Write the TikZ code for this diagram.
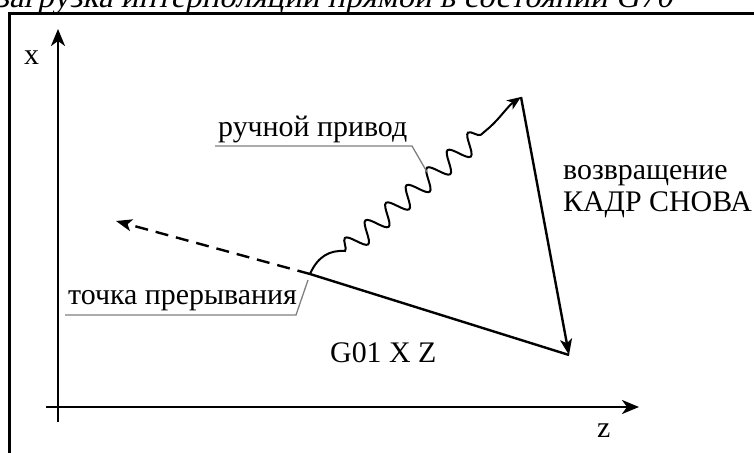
\documentclass[tikz,border=0pt]{standalone}
\usepackage{fontspec}
\setmainfont{Liberation Serif}
\newfontfamily\titlefont{Liberation Serif}[FakeSlant=0.21]
\usetikzlibrary{arrows.meta}
\usetikzlibrary{positioning}
\usetikzlibrary{decorations.pathmorphing}

\begin{document}
\begin{tikzpicture}[
        x=1bp, y=-1bp,
        axis/.style={line width=2.6bp, -{Stealth[length=17bp, width=14bp, inset=5bp]}},
        move/.style={line width=2.4bp, -{Stealth[length=16bp, width=12bp, inset=4bp]}},
        wave/.style={line width=2bp, -{Stealth[length=14bp, width=11bp, inset=4bp]}},
        leader/.style={draw=gray, line width=1.3bp},
        txt/.style={anchor=base west, inner sep=0pt, font=\fontsize{30}{34}\selectfont}
    ]

    \clip (0,0) rectangle (754,453);
    \useasboundingbox (0,0) rectangle (754,453);

    % title, cut by the page edge
    \node[txt, font=\fontsize{33}{36}\titlefont] (title) at (-4,8) {загрузка интерполяции прямой в состоянии G70};

    % frame
    \draw[line width=3bp, line join=miter] (9,470) -- (9,13.5) -- (770,13.5);

    % axes
    \coordinate (xbot) at (58,422);
    \coordinate (xtop) at (58,29);
    \coordinate (zleft) at (46,407);
    \coordinate (zright) at (639,407);
    \draw[axis] (xbot) -- (xtop);
    \draw[axis] (zleft) -- (zright);
    \node[txt] (xlbl) at (24,65) {x};
    \node[txt] (zlbl) at (597,437) {z};

    % points
    \coordinate (P) at (310,274);
    \coordinate (T) at (521,97);
    \coordinate (B) at (569,355);
    \coordinate (D) at (116,221);

    \draw[line width=2.4bp] (P) -- (B);
    \draw[move, dash pattern=on 13bp off 8bp] (P) -- (D);
    \draw[move] (T) -- (B);
    \draw[wave] (P) .. controls (318,256) and (330,250) .. (345,251)
        decorate[decoration={snake, amplitude=10bp, segment length=27bp}] {-- (490,127)}
        .. controls (500,118) and (508,106) .. (T);

    % labels
    \node[txt] (hand) at (218,137) {ручной привод};
    \node[txt] (stop) at (68,305) {точка прерывания};
    \node[txt] (block) at (330,363) {G01 X Z};
    \node[txt] (back) at (563,180) {возвращение};
    \node[txt] (again) at (563,212) {КАДР СНОВА};

    \coordinate (hand1) at (215,146);
    \coordinate (hand2) at (412,146);
    \coordinate (hand3) at (427,172);
    \draw[leader] (hand1) -- (hand2) -- (hand3);
    \coordinate (stop1) at (65,315);
    \coordinate (stop2) at (296,315);
    \coordinate (stop3) at (308,280);
    \draw[leader] (stop1) -- (stop2) -- (stop3);

\end{tikzpicture}
\end{document}
